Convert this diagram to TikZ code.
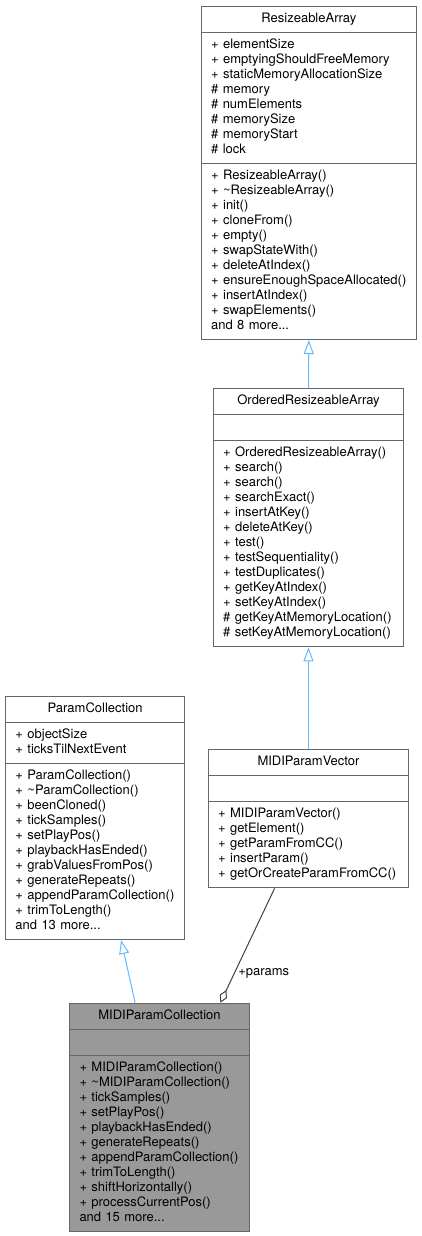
\documentclass[tikz,border=0pt]{standalone}
\usepackage{fontspec}
\setmainfont{TeX Gyre Heros}
\usetikzlibrary{shapes.multipart,arrows.meta}
\definecolor{boxline}{HTML}{666666}
\definecolor{curfill}{HTML}{999999}
\definecolor{inhline}{HTML}{63B8FF}
\definecolor{aggline}{HTML}{404040}
\hyphenpenalty=10000
\exhyphenpenalty=10000
\newcommand{\ctitle}[1]{\hbox to\hsize{\hfil\strut #1\hfil}}
\tikzstyle{cls}=[draw=boxline, line width=1pt, fill=white, rectangle split, rectangle split parts=3, inner xsep=10pt, inner ysep=5pt, align=left, anchor=north west]
\tikzstyle{cur}=[cls, fill=curfill]
\tikzstyle{inh}=[draw=inhline, line width=1pt, -{Triangle[open,length=14pt,width=10pt]}]
\tikzstyle{agg}=[draw=aggline, line width=1pt, -{Diamond[open,length=14pt,width=8pt]}]

\begin{document}
\begin{tikzpicture}[x=1pt,y=-1pt,font=\fontsize{13}{15}\selectfont]
\useasboundingbox (0,0) rectangle (421,1236);

\node[cls, text width=195.3pt] at (200.7,6) (ra) {\ctitle{ResizeableArray}
\nodepart{second}\strut+~elementSize\\+~emptyingShouldFreeMemory\\+~staticMemoryAllocationSize\\\#~memory\\\#~numElements\\\#~memorySize\\\#~memoryStart\\\#~lock\strut
\nodepart{third}\strut+~ResizeableArray()\\+~\textasciitilde ResizeableArray()\\+~init()\\+~cloneFrom()\\+~empty()\\+~swapStateWith()\\+~deleteAtIndex()\\+~ensureEnoughSpaceAllocated()\\+~insertAtIndex()\\+~swapElements()\\and 8 more...\strut};

\node[cls, text width=170.6pt] at (212.7,388.3) (ora) {\ctitle{OrderedResizeableArray}
\nodepart{second}\strut
\nodepart{third}\strut+~OrderedResizeableArray()\\+~search()\\+~search()\\+~searchExact()\\+~insertAtKey()\\+~deleteAtKey()\\+~test()\\+~testSequentiality()\\+~testDuplicates()\\+~getKeyAtIndex()\\+~setKeyAtIndex()\\\#~getKeyAtMemoryLocation()\\\#~setKeyAtMemoryLocation()\strut};

\node[cls, text width=159.3pt] at (5,696) (pc) {\ctitle{ParamCollection}
\nodepart{second}\strut+~objectSize\\+~ticksTilNextEvent\strut
\nodepart{third}\strut+~ParamCollection()\\+~\textasciitilde ParamCollection()\\+~beenCloned()\\+~tickSamples()\\+~setPlayPos()\\+~playbackHasEnded()\\+~grabValuesFromPos()\\+~generateRepeats()\\+~appendParamCollection()\\+~trimToLength()\\and 13 more...\strut};

\node[cls, text width=180.6pt] at (207.7,749.3) (mpv) {\ctitle{MIDIParamVector}
\nodepart{second}\strut
\nodepart{third}\strut+~MIDIParamVector()\\+~getElement()\\+~getParamFromCC()\\+~insertParam()\\+~getOrCreateParamFromCC()\strut};

\node[cur, text width=160pt] at (69,1002.7) (mpc) {\ctitle{MIDIParamCollection}
\nodepart{second}\strut
\nodepart{third}\strut+~MIDIParamCollection()\\+~\textasciitilde MIDIParamCollection()\\+~tickSamples()\\+~setPlayPos()\\+~playbackHasEnded()\\+~generateRepeats()\\+~appendParamCollection()\\+~trimToLength()\\+~shiftHorizontally()\\+~processCurrentPos()\\and 15 more...\strut};

\draw[inh] (ora.north) -- (ra.south);
\draw[inh] (mpv.north) -- (ora.south);
\draw[inh] (mpc.102) -- (pc.-78);
\draw[agg] (mpv.-116) -- node[pos=0.74, right] (params) {+params} (mpc.62);
\end{tikzpicture}
\end{document}
